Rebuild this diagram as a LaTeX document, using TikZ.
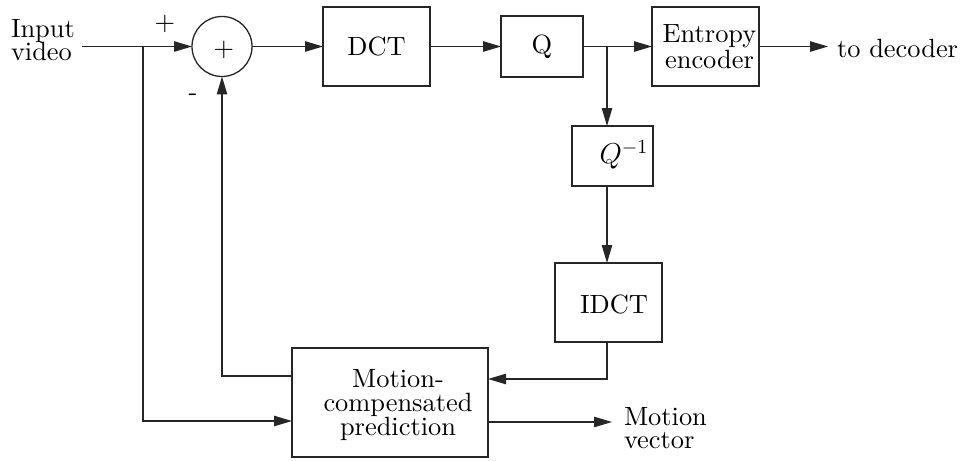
\documentclass[tikz,border=0pt]{standalone}
\usepackage{fontspec}
\setmainfont{lmroman10-regular.otf}[ItalicFont=lmroman10-italic.otf]
\usetikzlibrary{arrows.meta}
\begin{document}
\begin{tikzpicture}[x=0.5pt,y=-0.5pt,
  every node/.style={font=\fontsize{13.2}{11.8}\selectfont, inner sep=0pt, outer sep=0pt},
  box/.style={draw=black!85, line width=0.65pt, rectangle},
  sumc/.style={draw=black!85, line width=0.65pt, circle, minimum size=30pt},
  wire/.style={draw=black!85, line width=0.65pt},
  arr/.style={wire, -{Triangle[length=9pt,width=5.2pt]}},
  lbl/.style={align=center}]
\useasboundingbox (0,0) rectangle (967,460);
% blocks
\node[sumc] (sum) at (222,46.5) {};
\node (plus) at (224,50) {+};
\node[box, minimum width=53.5pt, minimum height=39.5pt] (dct) at (376.5,46.5) {DCT};
\node[box, minimum width=41pt, minimum height=30.5pt] (q) at (542,46.5) {Q};
\node[box, minimum width=53.5pt, minimum height=39.5pt, align=center] (ent) at (705.5,46.5) {\hspace*{4pt}Entropy\\\hspace*{4pt}encoder};
\node[box, minimum width=40.5pt, minimum height=30pt] (qinv) at (612.5,156) {};
\node[font=\fontsize{14.4}{16}\selectfont] (qinvt) at (624,155) {$Q^{-1}$};
\node[box, minimum width=53.5pt, minimum height=39.5pt] (idct) at (608.5,302.5) {};
\node (idctt) at (614,304) {IDCT};
\node[box, minimum width=98pt, minimum height=54.5pt] (mc) at (390,402.5) {};
\node[lbl] (mct) at (398,405) {Motion-\\compensated\\prediction};
% texts
\node[align=left, anchor=west] (input) at (11,40) {Input\\video};
\node (ptop) at (165,24) {+};
\node (minus) at (193,97) {-};
\node[anchor=west] (dec) at (837,48) {to decoder};
\node[align=left, anchor=west] (mv) at (624,428) {Motion\\vector};
% coordinates
\coordinate (inend) at (82,46.5);
\coordinate (br1) at (143,46.5);
\coordinate (br2) at (607,46.5);
\coordinate (decend) at (828,46.5);
\coordinate (mcin) at (292,421);
\coordinate (fbin) at (488,379);
\coordinate (fbout) at (292,376);
\coordinate (mvstart) at (488,422);
\coordinate (mvend) at (612,422);
% connectors
\draw[arr] (inend) -- (sum.west);
\draw[arr] (br1) |- (mcin);
\draw[arr] (sum.east) -- (dct.west);
\draw[arr] (dct.east) -- (q.west);
\draw[arr] (q.east) -- (ent.west);
\draw[arr] (ent.east) -- (decend);
\draw[arr] (br2) -- (br2 |- qinv.north);
\draw[arr] (br2 |- qinv.south) -- (br2 |- idct.north);
\draw[arr] (br2 |- idct.south) |- (fbin);
\draw[arr] (fbout) -| (sum.south);
\draw[arr] (mvstart) -- (mvend);
\end{tikzpicture}
\end{document}
